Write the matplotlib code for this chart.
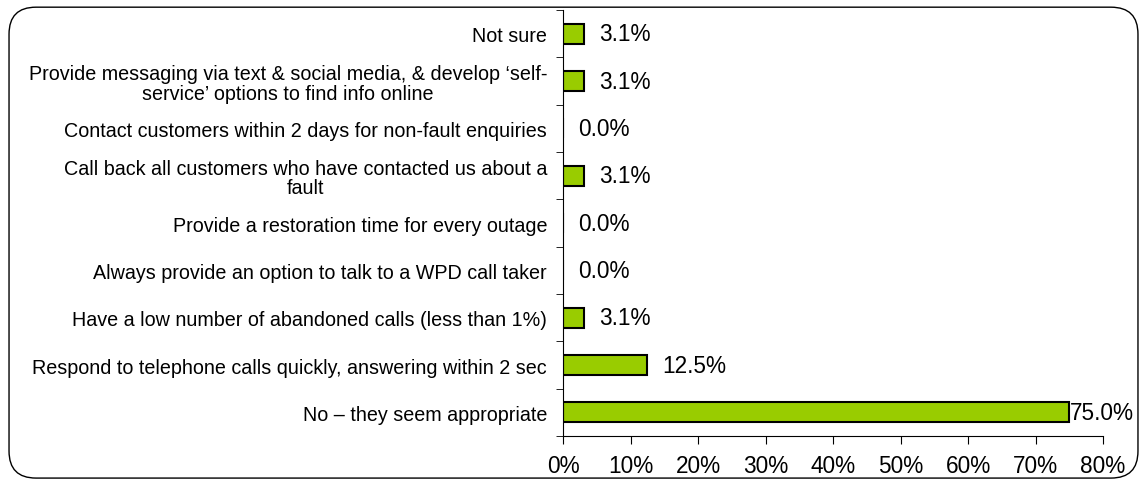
import matplotlib
matplotlib.use("Agg")
import matplotlib.pyplot as plt
from matplotlib.patches import FancyBboxPatch
from matplotlib.ticker import PercentFormatter

plt.rcParams["font.family"] = ["Liberation Sans", "DejaVu Sans"]

categories = [
    "Not sure",
    "Provide messaging via text & social media, & develop \u2018self-\nservice\u2019 options to find info online",
    "Contact customers within 2 days for non-fault enquiries",
    "Call back all customers who have contacted us about a\nfault",
    "Provide a restoration time for every outage",
    "Always provide an option to talk to a WPD call taker",
    "Have a low number of abandoned calls (less than 1%)",
    "Respond to telephone calls quickly, answering within 2 sec",
    "No \u2013 they seem appropriate",
]
values = [3.1, 3.1, 0.0, 3.1, 0.0, 0.0, 3.1, 12.5, 75.0]
xticks = [0, 10, 20, 30, 40, 50, 60, 70, 80]

fig = plt.figure(figsize=(11.43, 4.81), dpi=100)
ax = fig.add_axes([0.4926, 0.0915, 0.4724, 0.8855])

ypos = list(range(len(categories)))[::-1]
ax.barh(ypos, values, height=0.42, color="#99CC00", edgecolor="black", linewidth=1.5)

for y, v in zip(ypos, values):
    off = 1 if v > 70 else 15
    ax.annotate(f"{v:.1f}%", (v, y), xytext=(off, 0), textcoords="offset pixels",
                ha="left", va="center", fontsize=16.3)

ax.set_yticks(ypos)
ax.set_yticklabels(categories, fontsize=14.2, multialignment="center", linespacing=1.05)
ax.set_ylim(-0.5, len(categories) - 0.5)
ax.set_xlim(0, 80)
ax.set_xticks(xticks)
ax.xaxis.set_major_formatter(PercentFormatter(decimals=0))
ax.tick_params(axis="x", labelsize=16.3, direction="out", length=6, pad=7)
# y ticks sit between categories in the reference
ax.set_yticks([y + 0.5 for y in ypos] + [-0.5], minor=True)
ax.tick_params(axis="y", which="major", length=0, pad=11.5)
ax.tick_params(axis="y", which="minor", length=5)
for s in ["top", "right"]:
    ax.spines[s].set_visible(False)

border = FancyBboxPatch((0.0079, 0.004), 0.9877, 0.979, boxstyle="round,pad=0,rounding_size=0.0236",
                        transform=fig.transFigure, fill=False, edgecolor="black",
                        linewidth=1.0, mutation_aspect=1143 / 481)
fig.patches.append(border)

fig.savefig("out.png", dpi=100)
